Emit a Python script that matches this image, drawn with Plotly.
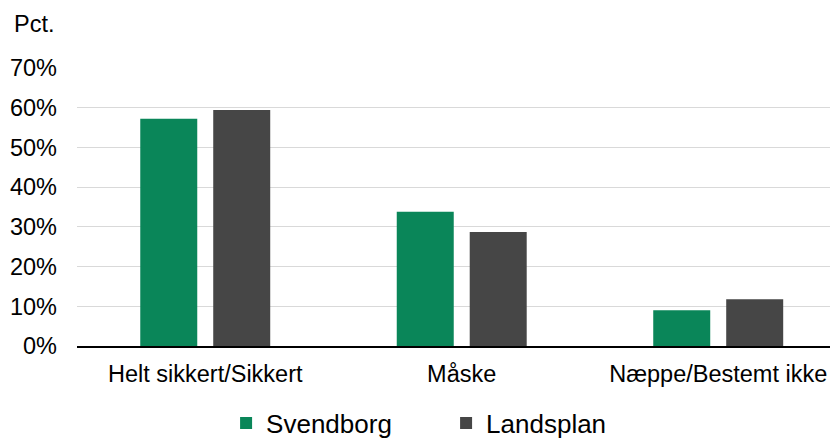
import plotly.graph_objects as go

categories = ["Helt sikkert/Sikkert", "Måske", "Næppe/Bestemt ikke"]
svendborg = [0.572, 0.338, 0.090]
landsplan = [0.594, 0.287, 0.118]
tick_vals = [0, 0.1, 0.2, 0.3, 0.4, 0.5, 0.6, 0.7]
tick_text = ["0%", "10%", "20%", "30%", "40%", "50%", "60%", "70%"]

FONT = "Liberation Sans, Arial, sans-serif"

fig = go.Figure()
fig.add_trace(go.Bar(x=categories, y=svendborg, name="Svendborg", marker_color="#0a8659",
                     marker_line_width=0))
fig.add_trace(go.Bar(x=categories, y=landsplan, name="Landsplan", marker_color="#464646",
                     marker_line_width=0))

fig.update_layout(
    width=830, height=433,
    margin=dict(l=69, r=0, t=60, b=95, autoexpand=False),
    paper_bgcolor="white", plot_bgcolor="white",
    font=dict(family=FONT, size=23.5, color="#000000"),
    barmode="group", bargap=0.431, bargroupgap=0.219,
    showlegend=True,
    legend=dict(orientation="h", x=0.485, xanchor="center", y=-0.277, yanchor="middle",
                font=dict(size=26, family=FONT), entrywidth=175, bgcolor="rgba(0,0,0,0)"),
    annotations=[dict(text="Pct.", xref="paper", yref="paper", x=-0.0854, y=1.158,
                      xanchor="left", yanchor="middle", showarrow=False,
                      font=dict(size=23.5, family=FONT))],
)
fig.update_yaxes(range=[0, 0.7], tickvals=tick_vals, ticktext=tick_text,
                 showgrid=True, gridcolor="#d9d9d9", gridwidth=1, zeroline=False,
                 ticks="", ticklabelstandoff=19)
fig.update_xaxes(range=[-0.5, 2.467], showline=True, linecolor="#000000", linewidth=2,
                 ticks="", ticklabelstandoff=6)

fig.write_html("out.html")
